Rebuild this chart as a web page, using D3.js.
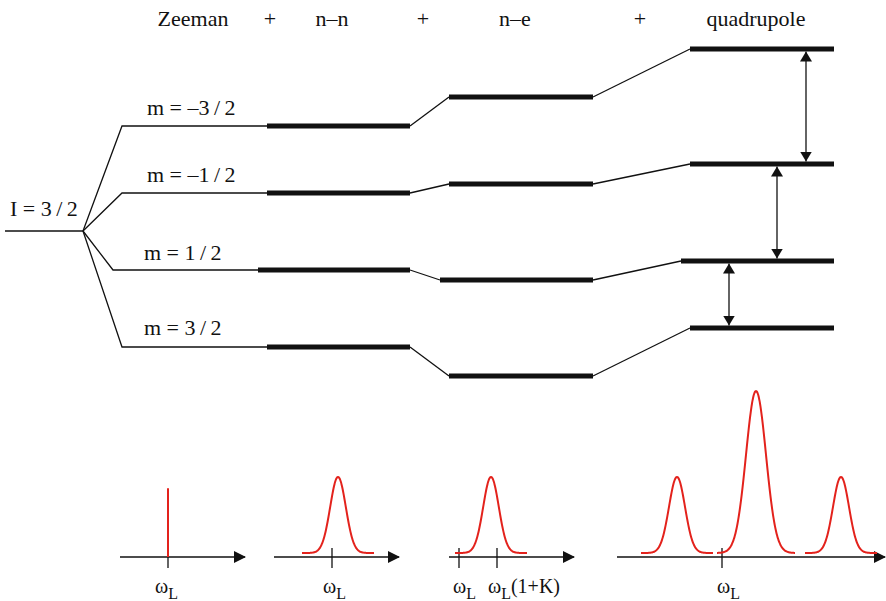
<!DOCTYPE html>
<html>
<head>
<meta charset="utf-8">
<script src="https://cdn.jsdelivr.net/npm/d3@7/dist/d3.min.js"></script>
<style>
  html, body { margin: 0; padding: 0; background: #fff; }
  svg { display: block; }
  text { font-family: "Liberation Serif", "Times New Roman", serif; fill: #111; }
</style>
</head>
<body>
<svg id="chart" width="886" height="601"></svg>
<script>
// ---------------- DATA ----------------
const stageNames = ["Zeeman", "n–n", "n–e", "quadrupole"];
const stageJoiners = ["+", "+", "+"];
const groundLabel = "I = 3\u2009/\u20092";
const spinLabels = ["m = –3\u2009/\u20092", "m = –1\u2009/\u20092", "m = 1\u2009/\u20092", "m = 3\u2009/\u20092"];
// energies (arbitrary units, ground level I = 0)
const zeemanEnergy = [105, 38, -39, -116];
const nnEnergy     = [105, 38, -39, -116];
const neEnergy     = [134, 47, -49, -145];
const quadEnergy   = [182, 67, -30, -97];

// spectra: frequencies relative to omega_L (arbitrary units), intensities relative
const peakCenters   = [[0], [6], [32], [-45, 34, 119]];
const peakHeights   = [[0.40], [0.47], [0.47], [0.47, 1.0, 0.47]];
const peakWidths    = [[0], [7.8], [7.8], [8, 10, 8]];
const peakSpans     = [[0], [36], [36], [36, 39, 36]];
const tickPositions = [[0], [0], [0, 38], [0]];
const tickLabels    = [[["ω","L",""]], [["ω","L",""]], [["ω","L",""], ["ω","L","(1+K)"]], [["ω","L",""]]];

// ---------------- LAYOUT ----------------
const svg = d3.select("#chart");
const ink = "#111";
const red = "#e3221c";
const fontSize = 22;

const y = d3.scaleLinear().domain([0, 100]).range([231, 131]);
const x = d3.scaleLinear().domain([0, 886]).range([0, 886]);

const branchX = 83;
const shift = [0, 0, -9, 0];
const zeemanStart = 122, nnStart = 267, nnEnd = 410, neStart = 449, neEnd = 593, qStart = 690, qEnd = 834;
const arrowX = [806, 777, 729];

// markers
const defs = svg.append("defs");
defs.append("marker")
  .attr("id", "ah").attr("markerUnits", "userSpaceOnUse")
  .attr("viewBox", "0 0 10 12").attr("refX", 10).attr("refY", 6)
  .attr("markerWidth", 10).attr("markerHeight", 12)
  .attr("orient", "auto-start-reverse")
  .append("path").attr("d", "M0,0 L10,6 L0,12 Z").attr("fill", ink);
defs.append("marker")
  .attr("id", "axh").attr("markerUnits", "userSpaceOnUse")
  .attr("viewBox", "0 0 12 12").attr("refX", 11).attr("refY", 6)
  .attr("markerWidth", 12).attr("markerHeight", 12)
  .attr("orient", "auto")
  .append("path").attr("d", "M0,0 L12,6 L0,12 Z").attr("fill", ink);

// top stage labels
const stageCenters = [193, 332, 515, 756];
const joinCenters = [270, 423, 640];
svg.selectAll("text.stage").data(stageNames).join("text")
  .attr("class", "stage").attr("x", (d, i) => x(stageCenters[i])).attr("y", 26)
  .attr("text-anchor", "middle").attr("font-size", fontSize).text(d => d);
svg.selectAll("text.join").data(stageJoiners).join("text")
  .attr("class", "join").attr("x", (d, i) => x(joinCenters[i])).attr("y", 26)
  .attr("text-anchor", "middle").attr("font-size", fontSize).text(d => d);

// ground level
svg.append("line").attr("x1", x(5)).attr("x2", x(branchX)).attr("y1", y(0)).attr("y2", y(0))
  .attr("stroke", ink).attr("stroke-width", 1.3);
svg.append("text").attr("x", x(10)).attr("y", 216).attr("font-size", fontSize).text(groundLabel);

const thin = svg.append("g").attr("fill", "none").attr("stroke", ink).attr("stroke-width", 1.3);
const thick = svg.append("g").attr("stroke", ink).attr("stroke-width", 5);

zeemanEnergy.forEach((e, i) => {
  const s = shift[i];
  thin.append("polyline").attr("points", [
    [x(branchX), y(0)], [x(zeemanStart + s), y(e)], [x(nnStart + s), y(nnEnergy[i])]
  ].map(p => p.join(",")).join(" "));
  thick.append("line").attr("x1", x(nnStart + s)).attr("x2", x(nnEnd)).attr("y1", y(nnEnergy[i])).attr("y2", y(nnEnergy[i]));
  thin.append("line").attr("x1", x(nnEnd)).attr("x2", x(neStart + s)).attr("y1", y(nnEnergy[i])).attr("y2", y(neEnergy[i]));
  thick.append("line").attr("x1", x(neStart + s)).attr("x2", x(neEnd)).attr("y1", y(neEnergy[i])).attr("y2", y(neEnergy[i]));
  thin.append("line").attr("x1", x(neEnd)).attr("x2", x(qStart + s)).attr("y1", y(neEnergy[i])).attr("y2", y(quadEnergy[i]));
  thick.append("line").attr("x1", x(qStart + s)).attr("x2", x(qEnd)).attr("y1", y(quadEnergy[i])).attr("y2", y(quadEnergy[i]));
});

// spin labels
const labelX = [147, 147, 144, 144];
const labelDy = [-11, -11, -10, -12];
svg.selectAll("text.spin").data(spinLabels).join("text")
  .attr("class", "spin").attr("x", (d, i) => x(labelX[i]))
  .attr("y", (d, i) => y(zeemanEnergy[i]) + labelDy[i])
  .attr("font-size", fontSize).text(d => d);

// transitions
arrowX.forEach((ax, i) => {
  svg.append("line").attr("x1", x(ax)).attr("x2", x(ax))
    .attr("y1", y(quadEnergy[i]) + 2.5).attr("y2", y(quadEnergy[i + 1]) - 2.5)
    .attr("stroke", ink).attr("stroke-width", 1.3)
    .attr("marker-start", "url(#ah)").attr("marker-end", "url(#ah)");
});

// ---------------- SPECTRA ----------------
const panelOrigin = [168, 332, 459, 722];
const panelAxis = [[120, 245], [274, 399], [449, 574], [617, 885]];
const labelOffset = [[-13], [-9], [-6, -9], [-5]];
const axisY = 557;
const ys = d3.scaleLinear().domain([0, 1]).range([553, 391]);

peakCenters.forEach((centers, p) => {
  const o = panelOrigin[p];
  const fx = d3.scaleLinear()
    .domain([panelAxis[p][0] - o, panelAxis[p][1] - o])
    .range(panelAxis[p]);
  const g = svg.append("g");
  g.append("line").attr("x1", fx.range()[0]).attr("x2", fx.range()[1])
    .attr("y1", axisY).attr("y2", axisY)
    .attr("stroke", ink).attr("stroke-width", 1.5).attr("marker-end", "url(#axh)");
  tickPositions[p].forEach((t, k) => {
    const top = p === 0 ? axisY : 548;
    g.append("line").attr("x1", fx(t)).attr("x2", fx(t)).attr("y1", top).attr("y2", 568)
      .attr("stroke", ink).attr("stroke-width", 1.3);
    const lab = tickLabels[p][k];
    const txt = g.append("text").attr("x", fx(t) + labelOffset[p][k]).attr("y", 593).attr("font-size", 20);
    txt.append("tspan").text(lab[0]);
    txt.append("tspan").attr("dy", 6).attr("font-size", 16).text(lab[1]);
    if (lab[2]) txt.append("tspan").attr("dy", -6).attr("font-size", 20).text(lab[2]);
  });
  centers.forEach((c, k) => {
    if (peakWidths[p][k] === 0) {
      g.append("line").attr("x1", fx(c)).attr("x2", fx(c))
        .attr("y1", axisY).attr("y2", ys(peakHeights[p][k]))
        .attr("stroke", red).attr("stroke-width", 2);
    } else {
      const sw = peakWidths[p][k], h = peakHeights[p][k], sp = peakSpans[p][k];
      const pts = d3.range(-sp, sp + 0.01, 0.5).map(dx => [c + dx, h * Math.exp(-dx * dx / (2 * sw * sw))]);
      g.append("path").datum(pts)
        .attr("d", d3.line().x(d => fx(d[0])).y(d => ys(d[1])).curve(d3.curveBasis))
        .attr("fill", "none").attr("stroke", red).attr("stroke-width", 2);
    }
  });
});
</script>
</body>
</html>
